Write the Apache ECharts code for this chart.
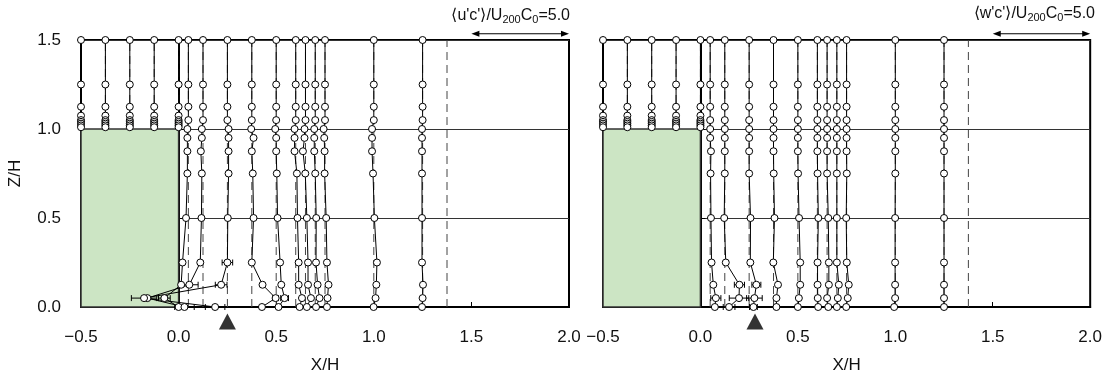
<!DOCTYPE html>
<html><head><meta charset="utf-8">
<script src="https://cdn.jsdelivr.net/npm/echarts@6/dist/echarts.min.js"></script>
<style>html,body{margin:0;padding:0;background:#fff}#c{width:1105px;height:379px}</style>
</head><body><div id="c"></div>
<script>
// ---- data ----
const heightsLower = [1.5, 1.25, 1.125, 1.05, 1.0, 0.95, 0.875, 0.75, 0.5, 0.25, 0.125, 0.05, 0.0];
const heightsRoof = [1.5, 1.25, 1.125, 1.075, 1.05, 1.04, 1.03, 1.02, 1.01];
const roofStations = [-0.5, -0.375, -0.25, -0.125, 0.0];
const lowerStations = [0.05, 0.125, 0.25, 0.375, 0.5, 0.6, 0.65, 0.7, 0.75, 1.0, 1.25];
const refLineX = 1.375;
const fluxScale = 0.1;           // 5.0 flux units = 0.5 X/H
const scaleBarFlux = 5.0;
const xTicks = [-0.5, 0.0, 0.5, 1.0, 1.5, 2.0];
const yTicks = [0.0, 0.5, 1.0, 1.5];

// roof profiles (both fluxes ~0 over the roof)
const ucRoof = [0, 0, 0, 0, 0, 0, 0, 0, 0];
const wcRoof = [0, 0, 0, 0, 0, 0, 0, 0, 0];

// <u'c'>/U200C0 at lowerStations (rows = heightsLower)
const uc_0050 = [0, 0, 0, 0, -0.05, -0.05, -0.05, -0.05, -0.12, -0.30, -0.37, -1.23, -0.50];
const uc_0125 = [0, 0, 0, 0, -0.06, -0.06, -0.11, -0.06, -0.08, -0.14, -0.70, -2.85, -0.95];
const uc_0250 = [0, 0, 0, 0, 0.06, 0.06, 0.06, 0.06, 0.02, 0.00, -0.32, -4.27, -0.63];
const uc_0375 = [0, 0, 0, 0, -0.03, 0.09, 0.00, 0.05, 0.09, 0.00, 0.55, 1.22, 0.52];
const uc_0500 = [0, 0, 0, 0, -0.05, 0.00, 0.00, 0.03, 0.07, 0.20, 0.26, 0.43, 0.12];
const uc_0600 = [0, 0, 0, 0, -0.06, -0.06, -0.06, 0.06, 0.09, 0.15, 0.15, 0.32, 0.20];
const uc_0650 = [0, 0, 0, 0, -0.05, -0.05, -0.13, -0.01, 0.07, 0.13, 0.13, 0.28, 0.07];
const uc_0700 = [0, 0, 0, 0, -0.05, -0.05, -0.05, 0.00, 0.05, 0.04, 0.12, 0.22, 0.04];
const uc_0750 = [0, 0, 0, 0, -0.07, -0.04, -0.02, -0.02, 0.06, 0.10, 0.18, 0.13, 0.10];
const uc_1000 = [0, 0, 0, 0, -0.09, -0.09, -0.09, -0.04, 0.03, 0.16, 0.13, 0.09, -0.01];
const uc_1250 = [0, 0, 0, 0, -0.03, -0.03, -0.03, -0.03, -0.03, -0.03, 0.02, 0.00, -0.03];

// <w'c'>/U200C0 at lowerStations
const wc_0050 = [0, 0, 0, 0, 0, 0, 0.04, 0.02, 0.04, 0.07, 0.16, 0.29, 0.24];
const wc_0125 = [0, 0, 0, 0, 0, 0, 0, 0, -0.03, 0.05, 0.75, 0.73, 0.22];
const wc_0250 = [0, 0, 0, 0, 0, 0, 0, 0, 0.07, 0.06, 0.37, 0.27, 0.22];
const wc_0375 = [0, 0, 0, 0, 0, 0, 0, 0.01, 0.05, -0.01, 0.23, 0.15, 0.15];
const wc_0500 = [0, 0, 0, 0, 0, 0, 0, 0.01, 0.06, 0.12, 0.12, 0.05, 0.00];
const wc_0600 = [0, 0, 0, 0, 0, 0, 0, 0.01, 0.05, 0.01, 0.01, 0.02, 0.04];
const wc_0650 = [0, 0, 0, 0, 0, 0, 0, 0, 0.06, 0.09, 0.09, 0.00, 0.06];
const wc_0700 = [0, 0, 0, 0, 0, 0, 0, 0, 0.00, 0.00, 0.10, 0.05, 0.00];
const wc_0750 = [0, 0, 0, 0, 0, 0, 0, 0.01, -0.02, 0.01, 0.11, 0.06, -0.02];
const wc_1000 = [0, 0, 0, 0, 0, 0, 0, 0, -0.01, -0.01, -0.01, -0.01, -0.06];
const wc_1250 = [0, 0, 0, 0, 0, 0, 0, 0, 0, 0, 0, 0, 0];

// error bars: [station, height, half width (X/H)]
const errUC = [[0.25, 0.25, 0.027], [0.125, 0.125, 0.045], [0.25, 0.125, 0.03], [0.05, 0.05, 0.03],
               [0.25, 0.05, 0.065], [0.375, 0.05, 0.015], [0.5, 0.05, 0.02], [0.6, 0.05, 0.01],
               [0.125, 0.0, 0.05], [0.25, 0.0, 0.05]];
const errWC = [[0.125, 0.125, 0.026], [0.25, 0.125, 0.023], [0.05, 0.05, 0.026], [0.125, 0.05, 0.05],
               [0.25, 0.05, 0.04], [0.125, 0.0, 0.03], [0.25, 0.0, 0.02]];

const triangleU = 0.25, triangleW = 0.28, triangleZ = -0.082;
const arrowZ = 1.535;

// ---- chart ----
const ucLower = [uc_0050, uc_0125, uc_0250, uc_0375, uc_0500, uc_0600, uc_0650, uc_0700, uc_0750, uc_1000, uc_1250];
const wcLower = [wc_0050, wc_0125, wc_0250, wc_0375, wc_0500, wc_0600, wc_0650, wc_0700, wc_0750, wc_1000, wc_1250];
const FONT = 'Liberation Sans';
const fmtX = v => (v < 0 ? '\u2212' : '') + Math.abs(v).toFixed(1);

function profileSeries(gi, x0, heights, flux) {
  return {
    type: 'line', xAxisIndex: gi, yAxisIndex: gi, clip: false, silent: true, z: 5,
    data: heights.map((h, i) => [x0 + flux[i] * fluxScale, h]),
    symbol: 'circle', symbolSize: 7, showSymbol: true, showAllSymbol: true,
    itemStyle: { color: '#fff', borderColor: '#000', borderWidth: 1 },
    lineStyle: { color: '#000', width: 1 },
    emphasis: { disabled: true }, animation: false
  };
}
function dashSeries(gi, x, y0, y1) {
  return {
    type: 'line', xAxisIndex: gi, yAxisIndex: gi, silent: true, z: 3, symbol: 'none',
    data: [[x, y0], [x, y1]], lineStyle: { color: '#444', width: 1, type: [8, 5] }, animation: false
  };
}
function panel(gi, lowerFlux, roofFlux, errs, triX) {
  const s = [];
  s.push({
    type: 'custom', xAxisIndex: gi, yAxisIndex: gi, silent: true, z: 1, data: [[-0.5, 1.0, 0.0, 0.0]],
    renderItem: (p, api) => {
      const a = api.coord([api.value(0), api.value(1)]), b = api.coord([api.value(2), api.value(3)]);
      return { type: 'rect', shape: { x: a[0], y: a[1], width: b[0] - a[0], height: b[1] - a[1] },
               style: { fill: '#cce5c4', stroke: '#333', lineWidth: 1.5 } };
    }, animation: false
  });
  roofStations.forEach(x0 => { if (x0 > -0.5) s.push(dashSeries(gi, x0, 1.0, 1.5)); });
  lowerStations.forEach(x0 => s.push(dashSeries(gi, x0, 0, 1.5)));
  s.push(dashSeries(gi, refLineX, 0, 1.5));
  roofStations.forEach(x0 => s.push(profileSeries(gi, x0, heightsRoof, roofFlux)));
  lowerStations.forEach((x0, k) => s.push(profileSeries(gi, x0, heightsLower, lowerFlux[k])));
  s.push({
    type: 'custom', xAxisIndex: gi, yAxisIndex: gi, silent: true, z: 4, clip: false,
    data: errs.map(e => {
      const k = lowerStations.indexOf(e[0]);
      const i = heightsLower.indexOf(e[1]);
      return [e[0] + lowerFlux[k][i] * fluxScale, e[1], e[2]];
    }),
    renderItem: (p, api) => {
      const c = api.value(0), y = api.value(1), h = api.value(2);
      const a = api.coord([c - h, y]), b = api.coord([c + h, y]);
      const st = { stroke: '#000', lineWidth: 1 };
      return { type: 'group', children: [
        { type: 'line', shape: { x1: a[0], y1: a[1], x2: b[0], y2: b[1] }, style: st },
        { type: 'line', shape: { x1: a[0], y1: a[1] - 3, x2: a[0], y2: a[1] + 3 }, style: st },
        { type: 'line', shape: { x1: b[0], y1: b[1] - 3, x2: b[0], y2: b[1] + 3 }, style: st }
      ]};
    }, animation: false
  });
  s.push({ type: 'scatter', xAxisIndex: gi, yAxisIndex: gi, clip: false, silent: true, z: 6,
    data: [[triX, triangleZ]], symbol: 'triangle', symbolSize: [17, 16],
    itemStyle: { color: '#000' }, animation: false });
  s.push({
    type: 'custom', xAxisIndex: gi, yAxisIndex: gi, silent: true, z: 6, clip: false,
    data: [[2.0 - scaleBarFlux * fluxScale, arrowZ, 2.0]],
    renderItem: (p, api) => {
      const a = api.coord([api.value(0), api.value(1)]), b = api.coord([api.value(2), api.value(1)]);
      const y = a[1];
      return { type: 'group', children: [
        { type: 'line', shape: { x1: a[0] + 4, y1: y, x2: b[0] - 4, y2: y }, style: { stroke: '#000', lineWidth: 1.2 } },
        { type: 'polygon', shape: { points: [[a[0], y], [a[0] + 8, y - 3], [a[0] + 8, y + 3]] }, style: { fill: '#000' } },
        { type: 'polygon', shape: { points: [[b[0], y], [b[0] - 8, y - 3], [b[0] - 8, y + 3]] }, style: { fill: '#000' } }
      ]};
    }, animation: false
  });
  return s;
}

const chart = echarts.init(document.getElementById('c'), null, { renderer: 'canvas' });
const axisX = gi => ({
  type: 'value', gridIndex: gi, min: xTicks[0], max: xTicks[xTicks.length - 1], interval: 0.5,
  axisLine: { show: true, lineStyle: { color: '#000', width: 2 } },
  axisTick: { show: true, inside: true, length: 5, lineStyle: { color: '#000' } },
  axisLabel: { formatter: fmtX, fontSize: 17, color: '#111', margin: 22, fontFamily: FONT },
  splitLine: { show: false },
  name: 'X/H', nameLocation: 'middle', nameGap: 50,
  nameTextStyle: { fontSize: 17, color: '#111', fontFamily: FONT }
});
const axisY = (gi, showLab) => ({
  type: 'value', gridIndex: gi, min: yTicks[0], max: yTicks[yTicks.length - 1], interval: 0.5,
  axisLine: { show: true, lineStyle: { color: '#000', width: 2 } },
  axisTick: { show: true, inside: true, length: 5, lineStyle: { color: '#000' } },
  axisLabel: { show: showLab, formatter: v => v.toFixed(1), fontSize: 17, color: '#111', margin: 20, fontFamily: FONT },
  splitLine: { show: true, lineStyle: { color: '#333', width: 1 } },
  name: showLab ? 'Z/H' : '', nameLocation: 'middle', nameGap: 57, nameRotate: 90,
  nameTextStyle: { fontSize: 17, color: '#111', fontFamily: FONT }
});
const rich = {
  n: { fontSize: 16, fontFamily: FONT, fill: '#111', lineHeight: 18, verticalAlign: 'middle' },
  s: { fontSize: 11, fontFamily: FONT, fill: '#111', lineHeight: 10, verticalAlign: 'bottom' }
};
chart.setOption({
  animation: false,
  grid: [
    { left: 81, top: 40, width: 488, height: 272, show: true, borderColor: '#000', borderWidth: 2 },
    { left: 603, top: 40, width: 489, height: 272, show: true, borderColor: '#000', borderWidth: 2 }
  ],
  xAxis: [axisX(0), axisX(1)],
  yAxis: [axisY(0, true), axisY(1, false)],
  graphic: [
    { type: 'text', right: 535, top: 8, style: { text: "{n|\u27e8u'c'\u27e9/U}{s|200}{n|C}{s|0}{n|=5.0}", rich: rich } },
    { type: 'text', right: 10, top: 6, style: { text: "{n|\u27e8w'c'\u27e9/U}{s|200}{n|C}{s|0}{n|=5.0}", rich: rich } }
  ],
  series: [...panel(0, ucLower, ucRoof, errUC, triangleU), ...panel(1, wcLower, wcRoof, errWC, triangleW)]
});
</script></body></html>
